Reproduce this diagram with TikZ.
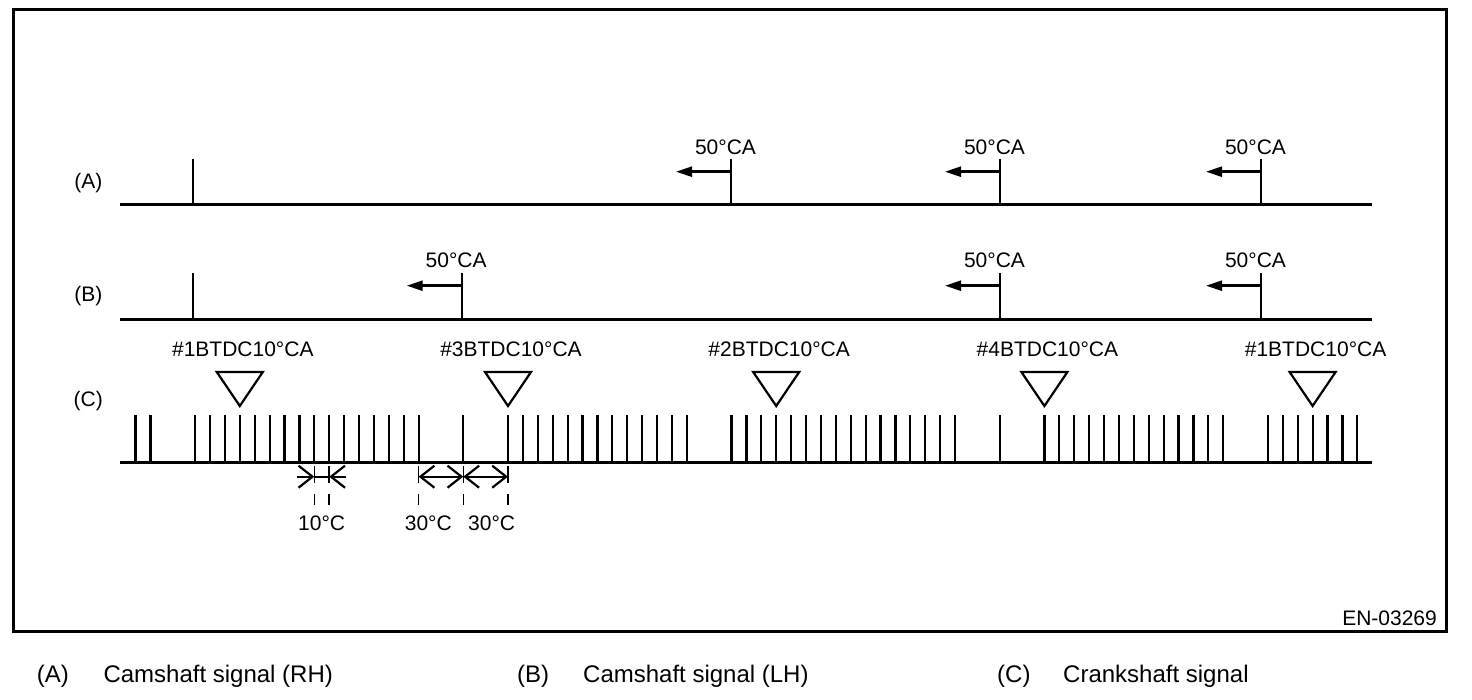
\documentclass[tikz,border=0pt]{standalone}
\usepackage{fontspec}
\setmainfont{Liberation Sans}
\usetikzlibrary{arrows.meta}
\begin{document}
\begin{tikzpicture}[x=1pt,y=-1pt,
  baseln/.style={line width=3pt},
  pulse/.style={line width=2.2pt},
  tooth/.style={line width=2.2pt},
  lbl/.style={font=\fontsize{21}{25}\selectfont, inner sep=0pt, anchor=base},
  leg/.style={font=\fontsize{24}{28}\selectfont, inner sep=0pt, anchor=base west},
  adv/.style={line width=2.5pt, -{Triangle[length=16pt,width=10pt]}},
  dimarr/.style={line width=2.2pt, -{Straight Barb[length=14pt,width=22pt,line width=2.2pt]}},
  dimboth/.style={line width=2.2pt, {Straight Barb[length=14pt,width=22pt,line width=2.2pt]}-{Straight Barb[length=14pt,width=22pt,line width=2.2pt]}},
  ext/.style={line width=1.5pt, dash pattern=on 17pt off 11pt},
  tdcmark/.style={line width=2.2pt, line join=miter},
]
\useasboundingbox (0,0) rectangle (1472,700);
% frame
\draw[line width=3pt] (13.5,9.5) rectangle (1446.5,631);

% row labels
\node[lbl] (ra) at (88.3,188.3) {(A)};
\node[lbl] (rb) at (88.3,301.7) {(B)};
\node[lbl] (rc) at (88.3,406.5) {(C)};

% (A) camshaft RH
\draw[baseln] (120,205) -- (1372,205);
\draw[pulse] (193.3,205) -- (193.3,159.5);
\foreach \x [count=\i] in {731,1000,1261} {
  \draw[pulse] (\x,205) -- (\x,159.5);
  \draw[adv] (\x,171.7) -- ({\x-55},171.7);
  \node[lbl] (pa\i) at ({\x-5.5},154.5) {50°CA};
}

% (B) camshaft LH
\draw[baseln] (120,319.3) -- (1372,319.3);
\draw[pulse] (193.3,319.3) -- (193.3,273);
\foreach \x [count=\i] in {461.7,1000,1261} {
  \draw[pulse] (\x,319.3) -- (\x,273);
  \draw[adv] (\x,285.7) -- ({\x-55},285.7);
  \node[lbl] (pb\i) at ({\x-5.5},268) {50°CA};
}

% (C) crankshaft
\draw[baseln] (120,462) -- (1372,462);
\foreach \n in {0,1,4,5,...,19,22,25,26,...,37,40,41,...,55,58,61,62,...,73,76,77,...,82}
  \draw[tooth] ({135.5+\n*14.9},462) -- ++(0,-47);

\foreach \n/\t [count=\i] in {7/1,25/3,43/2,61/4,79/1} {
  \pgfmathsetmacro\xx{135.5+\n*14.9}
  \draw[tdcmark] ({\xx-23},372) -- ({\xx+23},372) -- (\xx,406) -- cycle;
  \node[lbl] (tdc\i) at ({\xx+3},356.7) {\#\t BTDC10°CA};
}

% dimensions
\draw[line width=2.2pt] (314.3,476.7) -- (329.2,476.7);
\draw[dimarr] (297,476.7) -- (314.3,476.7);
\draw[dimarr] (346,476.7) -- (329.2,476.7);
\draw[dimboth] (418.6,476.7) -- (463.3,476.7);
\draw[dimboth] (463.3,476.7) -- (508,476.7);
\foreach \x in {314.3,329.2,418.6,463.3,508}
  \draw[ext] (\x,466) -- (\x,505);
\node[lbl] (d1) at (321.7,530) {10°C};
\node[lbl] (d2) at (428.3,530) {30°C};
\node[lbl] (d3) at (491.7,530) {30°C};

\node[lbl, anchor=base east] (en) at (1437,625) {EN-03269};

% legend
\node[leg] (lga) at (36.7,682) {(A)};
\node[leg] (lgat) at (103.3,682) {Camshaft signal (RH)};
\node[leg] (lgb) at (517,682) {(B)};
\node[leg] (lgbt) at (583,682) {Camshaft signal (LH)};
\node[leg] (lgc) at (997,682) {(C)};
\node[leg] (lgct) at (1063,682) {Crankshaft signal};
\end{tikzpicture}
\end{document}
